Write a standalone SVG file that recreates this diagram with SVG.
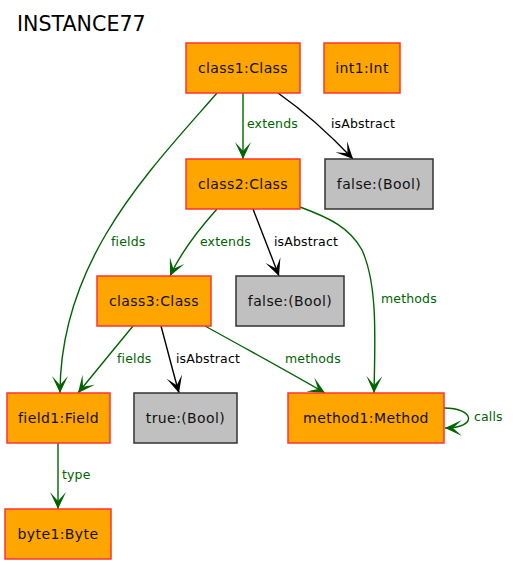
<svg xmlns="http://www.w3.org/2000/svg" width="514" height="565" viewBox="0 0 514 565">
<defs>
<marker id="ag" markerUnits="userSpaceOnUse" viewBox="-17 -9 18 18" refX="0" refY="0" markerWidth="18" markerHeight="18" orient="auto">
<path d="M0,0 L-17,-8 L-8,0 L-17,8 z" fill="#006400"/>
</marker>
<marker id="ab" markerUnits="userSpaceOnUse" viewBox="-17 -9 18 18" refX="0" refY="0" markerWidth="18" markerHeight="18" orient="auto">
<path d="M0,0 L-17,-8 L-8,0 L-17,8 z" fill="#000"/>
</marker>
<style>
.obj rect{fill:#FFA500;stroke:#FF3333;stroke-width:1.5}
.val rect{fill:#C0C0C0;stroke:#333;stroke-width:1.5}
.node text{font-family:"DejaVu Sans",sans-serif;font-size:14px;letter-spacing:0.4px;fill:#111;text-anchor:middle}
.g{fill:none;stroke:#006400;stroke-width:1.4;marker-end:url(#ag)}
.b{fill:none;stroke:#000;stroke-width:1.4;marker-end:url(#ab)}
.lg{font-family:"DejaVu Sans",sans-serif;font-size:12.5px;letter-spacing:0.15px;fill:#006400}
.lb{font-family:"DejaVu Sans",sans-serif;font-size:12.5px;letter-spacing:0.15px;fill:#000}
</style>
</defs>
<rect width="514" height="565" fill="#fff"/>
<text x="17" y="31" font-family="DejaVu Sans,sans-serif" font-size="20.6" fill="#000">INSTANCE77</text>
<g id="connectors">
<path class="g" d="M243,93 L243,159"/>
<text class="lg" x="247" y="128">extends</text>
<path class="b" d="M278,93 C305,112 335,140 353,159"/>
<text class="lb" x="331" y="128">isAbstract</text>
<path class="g" d="M217,93 C150,170 60,260 60,393"/>
<text class="lg" x="111" y="246">fields</text>
<path class="g" d="M217,209 C200,228 182,250 170,276"/>
<text class="lg" x="200" y="246">extends</text>
<path class="b" d="M253,209 C262,232 271,255 279,276"/>
<text class="lb" x="274" y="246">isAbstract</text>
<path class="g" d="M300,207 C330,218 350,228 362,250 C378,285 375,340 374,393"/>
<text class="lg" x="381" y="303">methods</text>
<path class="g" d="M133,326 C115,348 95,372 78,393"/>
<text class="lg" x="117" y="363">fields</text>
<path class="b" d="M161,326 C167,348 173,372 179,393"/>
<text class="lb" x="176" y="363">isAbstract</text>
<path class="g" d="M205,326 C245,348 285,370 325,393"/>
<text class="lg" x="285" y="363">methods</text>
<path class="g" d="M58,443 L58,509"/>
<text class="lg" x="62" y="479">type</text>
<path class="g" d="M444,408 C475,408 478,428 445,428"/>
<text class="lg" x="474" y="421">calls</text>
</g>
<g id="class1" class="node obj"><rect x="186" y="43" width="114" height="50"/><text x="243" y="73">class1:Class</text></g>
<g id="int1" class="node obj"><rect x="324" y="43" width="76" height="50"/><text x="362" y="73">int1:Int</text></g>
<g id="class2" class="node obj"><rect x="186" y="159" width="114" height="50"/><text x="243" y="189">class2:Class</text></g>
<g id="false1" class="node val"><rect x="325" y="159" width="108" height="50"/><text x="379" y="189">false:(Bool)</text></g>
<g id="class3" class="node obj"><rect x="97" y="276" width="114" height="50"/><text x="154" y="306">class3:Class</text></g>
<g id="false2" class="node val"><rect x="236" y="276" width="108" height="50"/><text x="290" y="306">false:(Bool)</text></g>
<g id="field1" class="node obj"><rect x="7" y="393" width="103" height="50"/><text x="58.5" y="423">field1:Field</text></g>
<g id="true1" class="node val"><rect x="134" y="393" width="103" height="50"/><text x="185.5" y="423">true:(Bool)</text></g>
<g id="method1" class="node obj"><rect x="288" y="393" width="156" height="50"/><text x="366" y="423">method1:Method</text></g>
<g id="byte1" class="node obj"><rect x="5" y="509" width="106" height="50"/><text x="58" y="539">byte1:Byte</text></g>
</svg>
